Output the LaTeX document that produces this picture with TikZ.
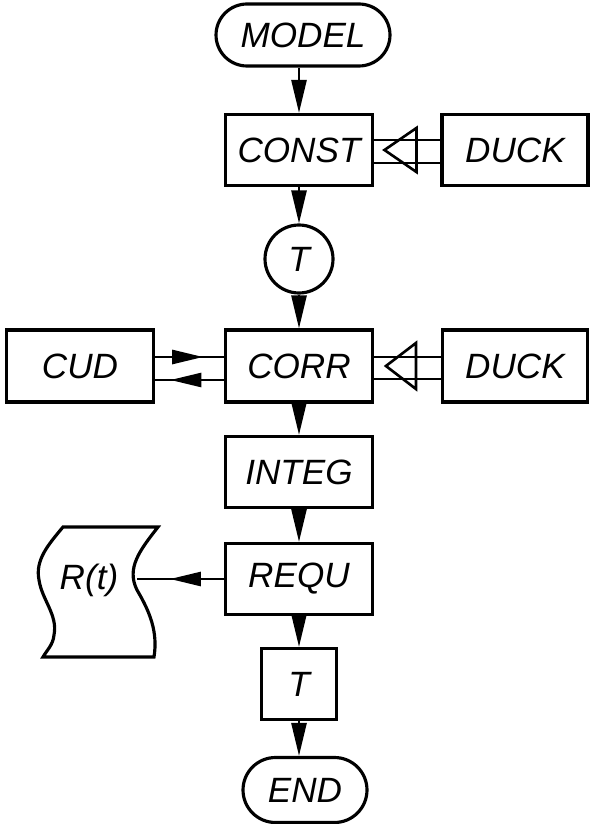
\documentclass[tikz,border=0pt]{standalone}
\usepackage{fontspec}
\setmainfont{Liberation Sans}
\usepackage{tikz}
\usetikzlibrary{arrows.meta, positioning, calc, decorations.markings}
\tikzset{
    box/.style={rectangle, draw, line width=1.8pt, minimum width=2.95cm, minimum height=1.42cm, inner sep=0pt, font=\itshape\fontsize{20}{23}\selectfont},
    terminal/.style={box, rounded corners=0.62cm, minimum height=1.24cm},
    connector/.style={circle, draw, line width=1.8pt, minimum size=1.36cm, inner sep=0pt, font=\itshape\fontsize{20}{23}\selectfont},
    link/.style={line width=1.5pt},
    flow/.style={link, -{Triangle[length=0.66cm, width=0.3cm]}},
    midflow/.style={link, postaction={decorate}, decoration={markings, mark=at position #1 with {\arrow{Triangle[length=0.62cm, width=0.28cm]}}}}
}
\begin{document}
\begin{tikzpicture}[x=0.02cm, y=-0.02cm]
    \useasboundingbox (0,0) rectangle (589,824);

    % Main column
    \node[terminal, minimum width=3.48cm] (model) at (303,35) {MODEL};
    \node[box] (const) at (299,150) {CONST};
    \node[box, minimum width=2.92cm] (duck1) at (515,150) {DUCK};
    \node[connector] (tc) at (299,259) {T};
    \node[box, minimum height=1.44cm] (corr) at (299,366) {CORR};
    \node[box, minimum height=1.44cm] (cud) at (80,366) {CUD};
    \node[box, minimum width=2.9cm, minimum height=1.44cm] (duck2) at (515,366) {DUCK};
    \node[box] (integ) at (299,472) {INTEG};
    \node[box] (requ) at (299,579) {REQU};
    \node[box, minimum width=1.5cm] (tbox) at (299,684) {T};
    \node[terminal, minimum width=2.48cm, minimum height=1.3cm, rounded corners=0.65cm] (end) at (305,790) {END};

    % Flow down the column
    \draw[flow] (model.south -| const) -- (const.north);
    \draw[flow] (const.south) -- (tc.north);
    \draw[flow] (tc.south) -- (corr.north);
    \draw[flow] (corr.south) -- (integ.north);
    \draw[flow] (integ.south) -- (requ.north);
    \draw[flow] (requ.south) -- (tbox.north);
    \draw[flow] (tbox.south) -- (end.north -| tbox);

    % DUCK links
    \draw[link] ([yshift=0.2cm]const.east) -- ([yshift=0.2cm]duck1.west);
    \draw[link] ([yshift=-0.26cm]const.east) -- ([yshift=-0.26cm]duck1.west);
    \draw[link] ([xshift=-0.48cm]duck1.west) coordinate (amp1) -- ++(0,-22) -- ++(-32,22) -- ++(32,22) -- cycle;
    \draw[link] ([yshift=0.18cm]corr.east) -- ([yshift=0.18cm]duck2.west);
    \draw[link] ([yshift=-0.26cm]corr.east) -- ([yshift=-0.26cm]duck2.west);
    \draw[link] ([xshift=-0.5cm]duck2.west) coordinate (amp2) -- ++(0,-23) -- ++(-30,23) -- ++(30,23) -- cycle;

    % CUD exchange
    \draw[midflow=0.7] ([yshift=0.18cm]cud.east) -- ([yshift=0.18cm]corr.west);
    \draw[midflow=0.78] ([yshift=-0.28cm]corr.west) -- ([yshift=-0.28cm]cud.east);

    % Output document
    \draw[line width=1.8pt] (63,527) -- (158,527)
        .. controls (140,550) and (126,568) .. (137,590)
        .. controls (150,612) and (158,632) .. (154,657)
        -- (43,657)
        .. controls (47,650) and (53,645) .. (54,635)
        .. controls (58,615) and (42,600) .. (39,580)
        .. controls (35,560) and (48,545) .. (63,527) -- cycle;
    \node[font=\itshape\fontsize{20}{23}\selectfont] (rt) at (89,580) {R(t)};
    \coordinate (rtedge) at (137,579);
    \draw[midflow=0.62] (requ.west) -- (rtedge);
\end{tikzpicture}
\end{document}
